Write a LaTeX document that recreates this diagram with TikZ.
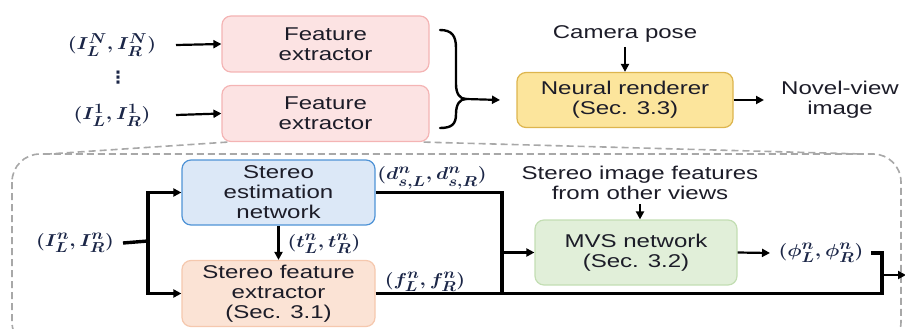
\documentclass[tikz,border=0pt]{standalone}
\usepackage[no-math]{fontspec}
\usepackage{amsmath,amssymb,graphicx}
\setmainfont{Liberation Sans}[FakeStretch=1.3]
\newfontfamily\symfont{DejaVu Sans}
\usetikzlibrary{arrows.meta,calc}

\definecolor{txt}{HTML}{1C1C28}
\definecolor{mathc}{HTML}{1B2647}
\definecolor{feFill}{HTML}{FCE3E3}
\definecolor{feDraw}{HTML}{F4B4B4}
\definecolor{nrFill}{HTML}{FCE59C}
\definecolor{nrDraw}{HTML}{DDB54E}
\definecolor{seFill}{HTML}{DCE8F7}
\definecolor{seDraw}{HTML}{4F93D6}
\definecolor{sfFill}{HTML}{FBE3D5}
\definecolor{sfDraw}{HTML}{F5C8AE}
\definecolor{mvFill}{HTML}{E1EFD9}
\definecolor{mvDraw}{HTML}{C3DEB3}
\definecolor{dashc}{HTML}{A8A8A8}

% wide bold math, matching the stretched text face
\newcommand\mlab[1]{\scalebox{1.16}[1]{$\boldsymbol{#1}$}}

\tikzset{
  box/.style={rounded corners=9pt, line width=1.2pt, inner sep=0pt, align=center,
    text=txt, font=\fontsize{18.5}{20}\selectfont},
  febox/.style={box, fill=feFill, draw=feDraw, minimum width=207pt, minimum height=56pt},
  lbl/.style={inner sep=0pt, align=center, text=txt, font=\fontsize{18.5}{20}\selectfont},
  mth/.style={inner sep=0pt, text=mathc, font=\fontsize{19}{20}\selectfont},
  tip/.style={-{Triangle[length=8pt,width=8pt]}},
  arr/.style={tip, line width=2.2pt, draw=black},
  heavy/.style={line width=3.4pt, draw=black},
  regionline/.style={draw=dashc, line width=1.6pt, dash pattern=on 7pt off 4pt}
}

\begin{document}
\begin{tikzpicture}[x=1pt,y=-1pt]
\path[use as bounding box] (0,0) rectangle (905,329);

% ---------- top row: per-view feature extraction and rendering ----------
\node[febox] (fe1) at (325.5,44) {Feature\\extractor};
\node[febox] (fe2) at (325.5,113.5) {Feature\\extractor};

\node[mth] (inN) at (112,45) {\mlab{(I_L^N, I_R^N)}};
\node[inner sep=0pt, text=mathc, font=\symfont\bfseries\fontsize{17}{18}\selectfont]
  (dots) at (118,78) {⋮};
\node[mth] (in1) at (112,115) {\mlab{(I_L^1, I_R^1)}};

\draw[arr] (inN.east -| 176,0) -- (fe1.west);
\draw[arr] (in1.east -| 176,0) -- (fe2.west);

\node[box, fill=nrFill, draw=nrDraw, minimum width=216pt, minimum height=55pt]
  (nr) at (625,100) {Neural renderer\\(Sec. 3.3)};
\node[lbl] (cam) at (625,34) {Camera pose};
\node[lbl] (nv) at (840,100) {Novel-view\\image};

% curly brace gathering the per-view features
\coordinate (btip) at (466,99);
\draw[line width=2.4pt, line cap=round]
  (440,30) .. controls (452,30) and (456,36) .. (456,48) -- (456,84)
  .. controls (456,94) and (460,99) .. (btip)
  .. controls (460,99) and (456,104) .. (456,114)
  .. controls (456,124) and (452,128) .. (440,128);
\draw[arr] (btip) -- (nr.west -| 500,0);
\draw[arr] (cam.south |- 0,47) -- (nr.north);
\draw[arr] (nr.east) -- (nv.west -| 764,0);

% ---------- zoomed-in view of one feature extractor ----------
\begin{scope}
  \clip (0,0) rectangle (905,329);
  \draw[regionline, rounded corners=28pt] (12,154) rectangle (901,350);
  \draw[regionline] (fe2.south west) ++(6,0) -- (48,154);
  \draw[regionline] (fe2.south east) ++(-6,0) -- (862,154);
\end{scope}

\node[box, fill=seFill, draw=seDraw, minimum width=193pt, minimum height=65pt]
  (se) at (278.5,192.5) {Stereo\\estimation\\network};
\node[box, fill=sfFill, draw=sfDraw, minimum width=193pt, minimum height=66pt]
  (sf) at (278.5,293.5) {Stereo feature\\extractor\\(Sec. 3.1)};
\node[box, fill=mvFill, draw=mvDraw, minimum width=202pt, minimum height=65pt]
  (mvs) at (636,252.5) {MVS network\\(Sec. 3.2)};

\node[mth] (inn) at (75,243) {\mlab{(I_L^n, I_R^n)}};
\node[mth] (dlab) at (432,178) {\mlab{(d_{s,L}^n, d_{s,R}^n)}};
\node[mth] (tlab) at (324,244) {\mlab{(t_L^n, t_R^n)}};
\node[mth] (flab) at (425,282) {\mlab{(f_L^n, f_R^n)}};
\node[mth] (phi) at (821,253) {\mlab{(\phi_L^n, \phi_R^n)}};
\node[lbl] (sfo) at (640,183) {Stereo image features\\from other views};

% input split into the two stereo branches
\coordinate (split) at (148,241);
\draw[heavy] (inn.east -| 123,0) -- (split);
\draw[heavy, tip] (split) |- (se.west);
\draw[heavy, tip] (split) |- (sf.west);
\draw[tip, line width=2.6pt] (se.south) -- (sf.north);

% disparities and stereo features merge, feed the MVS network
\coordinate (jx) at (502,293.5);
\draw[heavy] (se.east) -| (jx);
\draw[arr] (mvs.west -| jx) -- (mvs.west);
\draw[arr] (sfo.south |- 0,204) -- (mvs.north -| sfo.south);
\draw[arr] (mvs.east) -- (phi.west -| 770,0);

% outputs of the lower block leave to the right
\coordinate (rj) at (882,293.5);
\coordinate (outR) at (906,275);
\draw[heavy] (sf.east) -- (rj) -- (rj |- phi) -- (phi.east -| 871,0);
\draw[arr] (rj |- outR) -- (outR);
\end{tikzpicture}
\end{document}
